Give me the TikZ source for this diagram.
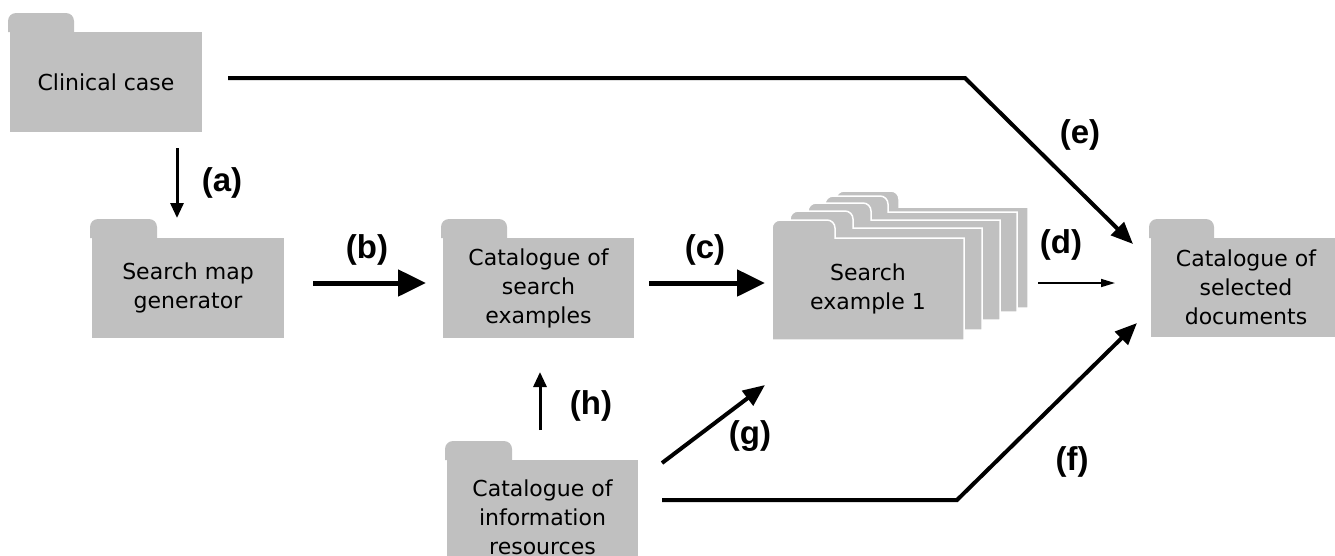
\documentclass[tikz,border=0pt]{standalone}
\usepackage{fontspec}
\setmainfont{DejaVu Sans}
\newfontfamily\labfont{Liberation Sans}
\usetikzlibrary{arrows.meta,calc}
\definecolor{foldgray}{RGB}{192,192,192}
\tikzset{
  folder/.style={rectangle, fill=foldgray, inner sep=0pt, outer sep=0pt, anchor=north west,
    align=center, font=\fontsize{22}{29}\selectfont},
  lab/.style={font=\labfont\bfseries\fontsize{33}{33}\selectfont, inner sep=0pt},
  bigarr/.style={line width=5pt, -{Triangle[length=28pt,width=26pt]}},
  medarr/.style={line width=4pt, line join=miter, -{Triangle[length=22pt,width=18pt]}},
  smallarr/.style={line width=3pt, -{Triangle[length=15pt,width=13pt]}},
  finearr/.style={line width=1.6pt, -{Triangle[length=14pt,width=8pt]}},
  stackfold/.style={fill=foldgray, draw=white, line width=1.5pt},
}
\newcommand\foldtab[2]{%
  \fill[foldgray] ([xshift=-2pt]#1.north west) [rounded corners=8pt] -- ++(0pt,19pt) -- ++(#2,0pt) [sharp corners] -- ++(0pt,-19pt) -- cycle;}
% stacked folder: left, body top, right, bottom, tab top
\newcommand\stackpiece[5]{%
  \path[stackfold] (#1,#4) -- (#1,#2) [rounded corners=8pt] -- (#1,#5) -- (#1+63,#5) [sharp corners] -- (#1+63,#2) -- (#3,#2) -- (#3,#4) -- cycle;}
\begin{document}
\begin{tikzpicture}[x=1pt,y=-1pt]
\useasboundingbox (0,0) rectangle (1335,555);
\clip (0,0) rectangle (1335,555);
% folders
\node[folder, minimum width=192pt, minimum height=100pt] (cc) at (10,32) {Clinical case};
\foldtab{cc}{66pt}
\node[folder, minimum width=192pt, minimum height=100pt] (smg) at (92,238) {Search map\\generator};
\foldtab{smg}{67pt}
\node[folder, minimum width=191pt, minimum height=100pt] (cse) at (443,238) {Catalogue of\\search\\examples};
\foldtab{cse}{66pt}
\node[folder, minimum width=190pt, minimum height=99pt] (scd) at (1151,238) {Catalogue of\\selected\\documents};
\foldtab{scd}{65pt}
\node[folder, minimum width=191pt, minimum height=114pt] (cir) at (447,460) {Catalogue of\\information\\resources};
\foldtab{cir}{67pt}
% stack of search examples
\stackpiece{836}{207}{1028}{308}{191}
\stackpiece{825}{212}{1017}{312}{196}
\stackpiece{808}{220}{1000}{320}{203}
\stackpiece{790}{228}{982}{330}{211}
\stackpiece{772}{238}{964}{340}{220}
\node[folder, fill=none, minimum width=192pt, minimum height=102pt] (se) at (772,238) {Search\\example 1};
% bends
\coordinate (ebend) at (965,78);
\coordinate (fbend) at (957,500);
% connectors
\draw[smallarr] ($(cc.south)+(71pt,-16pt)$) -- ($(smg.north)+(-11pt,20pt)$);
\draw[bigarr] ($(smg.east)+(29pt,5pt)$) -- ($(cse.west)+(-17pt,5pt)$);
\draw[bigarr] ($(cse.east)+(15pt,5pt)$) -- ($(se.west)+(-7pt,6pt)$);
\draw[finearr] ($(se.east)+(74pt,6pt)$) -- ($(se.east -| scd.west)+(-36pt,6pt)$);
\draw[medarr] ($(cc.east)+(26pt,4pt)$) -- (ebend) -- ($(scd.north west)+(-18pt,-6pt)$);
\draw[medarr] ($(cir.east)+(24pt,17pt)$) -- (fbend) -- ($(scd.south west)+(-14pt,14pt)$);
\draw[medarr] ($(cir.east)+(24pt,54pt)$) -- ($(se.south west)+(-7pt,-45pt)$);
\draw[smallarr] ($(cir.north)+(-2.5pt,30pt)$) -- ($(cse.south)+(1.5pt,-34pt)$);
% labels
\node[lab] (la) at (222,183) {(a)};
\node[lab] (lb) at (367,250) {(b)};
\node[lab] (lc) at (705,250) {(c)};
\node[lab] (ld) at (1061,245) {(d)};
\node[lab] (le) at (1080,135) {(e)};
\node[lab] (lf) at (1072,462) {(f)};
\node[lab] (lg) at (750,436) {(g)};
\node[lab] (lh) at (591,406) {(h)};
\end{tikzpicture}
\end{document}
